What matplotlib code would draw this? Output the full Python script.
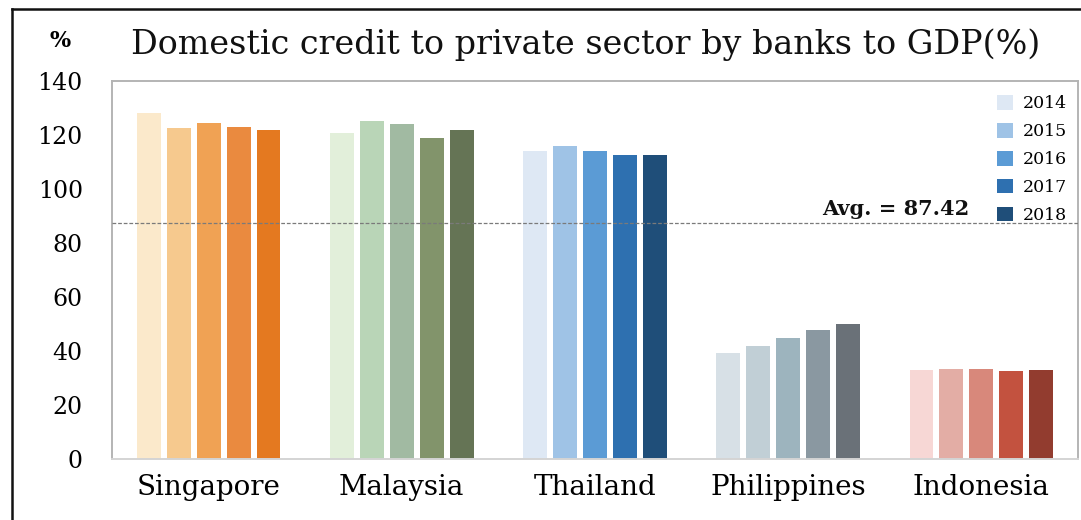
import numpy as np
import matplotlib
matplotlib.use('Agg')
import matplotlib.pyplot as plt
from matplotlib.lines import Line2D

plt.rcParams['font.family'] = ['DejaVu Serif']

countries = ['Singapore', 'Malaysia', 'Thailand', 'Philippines', 'Indonesia']
years = ['2014', '2015', '2016', '2017', '2018']
# credit to GDP (%), one list per year, in country order
v2014 = [128.1, 120.7, 114.1, 39.3, 33.0]
v2015 = [122.6, 125.2, 115.9, 41.9, 33.3]
v2016 = [124.4, 124.1, 114.1, 44.8, 33.3]
v2017 = [123.0, 118.9, 112.6, 47.8, 32.6]
v2018 = [121.9, 121.9, 112.6, 50.0, 33.0]
avg_value = 87.42

# per-country palettes, light (2014) -> dark (2018)
palettes = {
    'Singapore':   ['#fbe9cb', '#f6c98e', '#f0a254', '#ea8a3f', '#e47920'],
    'Malaysia':    ['#e2efda', '#b9d5b7', '#a1baa2', '#82946b', '#657455'],
    'Thailand':    ['#dee8f4', '#9fc3e6', '#5b9bd5', '#2e70b0', '#1f4e79'],
    'Philippines': ['#d7e0e6', '#c1cfd6', '#9db4be', '#8a98a1', '#6a7178'],
    'Indonesia':   ['#f7d7d5', '#e3ada5', '#d8887b', '#c3523f', '#923c2f'],
}

series = [v2014, v2015, v2016, v2017, v2018]

fig = plt.figure(figsize=(10.81, 5.2), dpi=100)
ax = fig.add_axes([0.1036, 0.1173, 0.8936, 0.7269])

x = np.arange(len(countries))
step, width = 0.155, 0.124
containers = []
for i, (yr, vals) in enumerate(zip(years, series)):
    cols = [palettes[c][i] for c in countries]
    b = ax.bar(x + (i - 2) * step, vals, width=width, color=cols, zorder=2)
    containers.append(b)

ax.axhline(avg_value, color='#7a7a7a', lw=0.9, ls=(0, (3, 1.5)), zorder=3)
ax.text(3.94, avg_value + 1.6, f'Avg. = {avg_value:.2f}', ha='right', va='bottom',
        fontsize=15, weight='bold', color='#111111')

ax.set_xlim(-0.5, 4.5)
ax.set_ylim(0, 140)
ax.set_yticks(np.arange(0, 141, 20))
ax.set_xticks(x)
ax.set_xticklabels(countries, fontsize=20)
ax.tick_params(axis='y', length=0, pad=21, labelsize=17)
ax.tick_params(axis='x', length=0, pad=11)
for s in ['left', 'top', 'right']:
    ax.spines[s].set_color('#b4b4b4')
    ax.spines[s].set_linewidth(1.4)
ax.spines['bottom'].set_color('#d4d4d4')
ax.spines['bottom'].set_linewidth(1.4)

# legend keyed to the Thailand shades
handles = [c.patches[2] for c in containers]
leg = ax.legend(handles, years, loc='upper right', bbox_to_anchor=(1.0, 0.99),
                frameon=False, fontsize=12.5, handlelength=0.9, handleheight=0.9,
                handletextpad=0.6, labelspacing=0.62, borderaxespad=0.2)

fig.text(0.542, 0.915, 'Domestic credit to private sector by banks to GDP(%)',
         ha='center', va='center', fontsize=24, color='#111111')
fig.text(0.056, 0.922, '%', ha='center', va='center', fontsize=16, weight='bold')

# outer frame edges
fig.add_artist(Line2D([0.0111, 0.0111], [0.0, 0.983], transform=fig.transFigure,
                      color='#111111', lw=1.8))
fig.add_artist(Line2D([0.0111, 1.0], [0.983, 0.983], transform=fig.transFigure,
                      color='#111111', lw=1.8))

fig.savefig('out.png', dpi=100, facecolor='white')
